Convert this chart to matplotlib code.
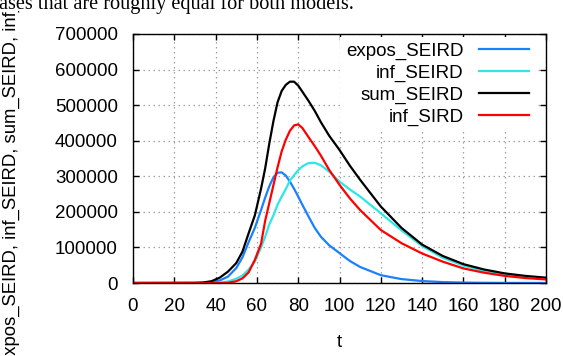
import matplotlib
matplotlib.use('Agg')
import matplotlib.pyplot as plt
from matplotlib.patches import Rectangle

# data
t = [0, 30, 34, 38, 42, 46, 50, 53, 56, 59, 62, 64, 66, 68, 70, 72, 74, 76, 78, 80,
     82, 85, 88, 91, 95, 100, 105, 110, 120, 130, 140, 150, 160, 170, 180, 190, 200]

expos_SEIRD = [0, 0, 500, 2500, 7000, 18000, 42000, 72000, 115000, 155000, 205000,
               240000, 272000, 297000, 310000, 311000, 302000, 285000, 265000, 243000,
               220000, 187000, 155000, 130000, 106000, 84000, 62000, 45000, 22000,
               11000, 5500, 2500, 1200, 600, 300, 150, 80]

inf_SEIRD = [0, 0, 0, 0, 500, 4000, 12000, 21000, 38000, 60000, 100000,
             130000, 165000, 190000, 220000, 243000, 264000, 288000, 303000, 317000,
             328000, 337000, 338000, 331000, 313000, 285000, 263000, 243000, 196000,
             148000, 104000, 71000, 49000, 34000, 24000, 17000, 12000]

sum_SEIRD = [0, 500, 1500, 5000, 15000, 32000, 56000, 88000, 140000, 190000, 265000,
             322000, 392000, 455000, 508000, 540000, 557000, 566000, 566000, 555000,
             538000, 512000, 484000, 452000, 414000, 374000, 330000, 290000, 215000,
             155000, 108000, 76000, 53000, 38000, 27000, 20000, 15000]

inf_SIRD = [0, 0, 0, 0, 0, 500, 5000, 13000, 30000, 65000, 110000,
            175000, 225000, 275000, 325000, 370000, 403000, 428000, 443000, 446000,
            436000, 410000, 385000, 358000, 318000, 276000, 238000, 205000, 149000,
            112000, 83000, 60000, 41000, 29000, 20000, 14000, 10000]

series_names = ['expos_SEIRD', 'inf_SEIRD', 'sum_SEIRD', 'inf_SIRD']
series_colors = ['#1a80ff', '#2ee6e6', '#000000', '#ff0000']

x_ticks = list(range(0, 201, 20))
y_ticks = list(range(0, 700001, 100000))

plt.rcParams['font.family'] = 'Liberation Sans'
plt.rcParams['font.size'] = 13.5

W, H = 563, 356
fig = plt.figure(figsize=(W / 100, H / 100), dpi=100)
ax = fig.add_axes([133 / W, 1 - 283 / H, 413 / W, 249 / H])

for vals, name, col in zip([expos_SEIRD, inf_SEIRD, sum_SEIRD, inf_SIRD], series_names, series_colors):
    ax.plot(t, vals, color=col, lw=1.6, label=name)

ax.set_xlim(0, 200)
ax.set_ylim(0, 700000)
ax.set_xticks(x_ticks)
ax.set_yticks(y_ticks)
ax.set_yticklabels([str(v) for v in y_ticks])
ax.grid(True, color='#a0a0a0', linestyle=(0, (1.2, 2.8)), lw=0.9)
ax.tick_params(direction='in', top=True, right=True, length=4, width=1, color='black')
ax.tick_params(axis='x', pad=11)
ax.tick_params(axis='y', pad=11)
for sp in ax.spines.values():
    sp.set_linewidth(1)
    sp.set_color('black')

ax.set_xlabel('t')
ax.xaxis.set_label_coords(0.5, -0.205)

leg = ax.legend(loc='upper right', bbox_to_anchor=(0.973, 0.988), markerfirst=False,
                frameon=True, fancybox=False, edgecolor='none', facecolor='white',
                framealpha=1, handlelength=2.7, handletextpad=0.8, labelspacing=0.25,
                borderpad=0.3, borderaxespad=0)

# y label, cut off at both ends like the source
fig.text(11 / W, 1 - 161 / H, 'expos_SEIRD, inf_SEIRD, sum_SEIRD, inf_SIRD',
         rotation=90, ha='center', va='center', fontsize=13.3, zorder=3)

# caption line from the page above, it hides the top of the chart image
fig.patches.append(Rectangle((0, 1 - 11 / H), 1, 11 / H, transform=fig.transFigure,
                             facecolor='white', edgecolor='none', zorder=4))
fig.text(-10 / W, 1 - 9 / H, 'cases that are roughly equal for both models.',
         family='Liberation Serif', fontsize=14.6, ha='left', va='baseline', zorder=5)

fig.savefig('out.png', dpi=100)
